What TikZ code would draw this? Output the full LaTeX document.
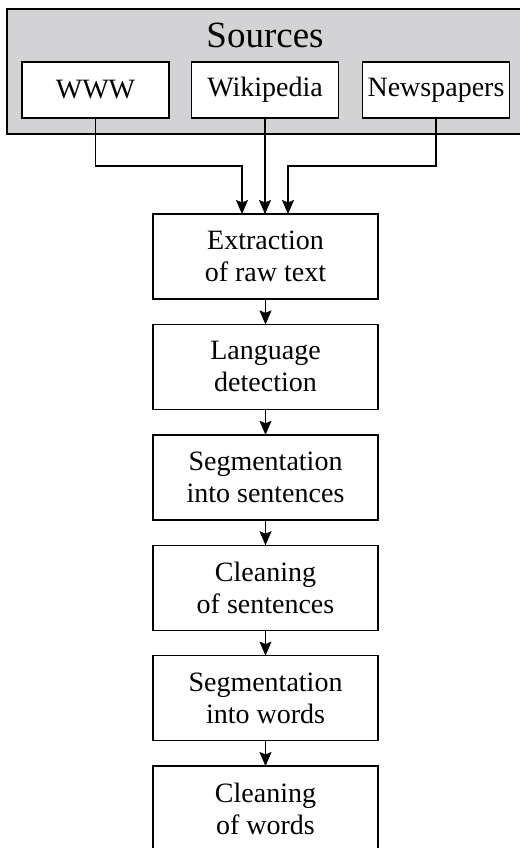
\documentclass[tikz,border=0pt]{standalone}
\usepackage{fontspec}
\setmainfont{Liberation Serif}
\usetikzlibrary{arrows.meta}
\definecolor{panelgray}{RGB}{211,211,213}
\begin{document}
\begin{tikzpicture}[x=1pt,y=-1pt,
  boxtext/.style={font=\fontsize{28}{32}\selectfont},
  stage/.style={draw, line width=1.4pt, fill=white, minimum width=225pt,
    minimum height=85pt, inner sep=0pt, outer sep=0pt, align=center, boxtext},
  srcbox/.style={draw, line width=1.4pt, fill=white, minimum width=147pt,
    minimum height=56pt, inner sep=0pt, outer sep=0pt, boxtext},
  flow/.style={-{Stealth[length=14pt,width=12pt,inset=2.5pt,line width=0.5pt]},
    line width=1.4pt}]
  \useasboundingbox (0,0) rectangle (519,848);

  % grey panel holding the sources
  \node (panel) [draw, line width=1.4pt, fill=panelgray, minimum width=520pt,
    minimum height=125pt, inner sep=0pt, outer sep=0pt] at (267,71.5) {};
  \node (title) [anchor=base, font=\fontsize{37}{40}\selectfont, inner sep=0pt]
    at (265,48) {Sources};
  \node (www)  [srcbox] at (95.5,90) {WWW};
  \node (wiki) [srcbox] at (265,90)  {Wikipedia};
  \node (news) [srcbox] at (436,90)  {Newspapers};

  % processing pipeline
  \node (extract) [stage] at (265.5,256.5) {Extraction\\of raw text};
  \node (lang)    [stage] at (265.5,366.9) {Language\\detection};
  \node (segsent) [stage] at (265.5,477.3) {Segmentation\\into sentences};
  \node (clsent)  [stage] at (265.5,587.7) {Cleaning\\of sentences};
  \node (segword) [stage] at (265.5,698.1) {Segmentation\\into words};
  \node (clword)  [stage] at (265.5,808.5) {Cleaning\\of words};

  % sources feed the extraction step
  \draw[flow] (www.south) -- ++(0,48) -| ([xshift=-23.5pt]extract.north);
  \draw[flow] (wiki.south) -- (wiki.south |- extract.north);
  \draw[flow] (news.south) -- ++(0,48) -| ([xshift=22.5pt]extract.north);

  % step to step
  \draw[flow] (extract) -- (lang);
  \draw[flow] (lang) -- (segsent);
  \draw[flow] (segsent) -- (clsent);
  \draw[flow] (clsent) -- (segword);
  \draw[flow] (segword) -- (clword);
\end{tikzpicture}
\end{document}
